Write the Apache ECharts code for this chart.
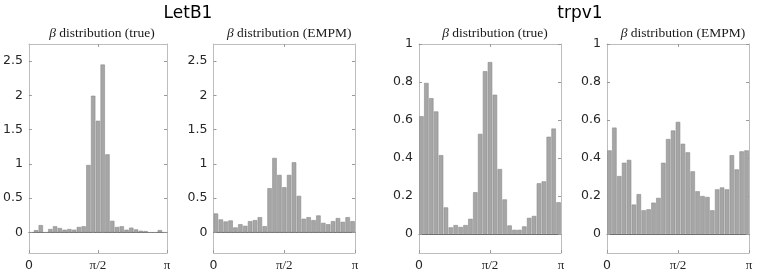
<!DOCTYPE html>
<html>
<head>
<meta charset="utf-8">
<script src="https://cdn.jsdelivr.net/npm/echarts@6/dist/echarts.min.js"></script>
<style>
html,body{margin:0;padding:0;background:#fff;}
#chart{width:761px;height:276px;}
</style>
</head>
<body>
<div id="chart"></div>
<script>
// ---- data ----
const binLabels = ['1','2','3','4','5','6','7','8','9','10','11','12','13','14','15','16','17','18','19','20','21','22','23','24','25','26','27','28','29'];
const letb1True = [0, 0.034, 0.107, 0, 0.05, 0.09, 0.065, 0.04, 0.05, 0.04, 0.08, 0.09, 0.985, 1.995, 1.63, 2.45, 1.14, 0.17, 0.08, 0.09, 0.04, 0.07, 0.045, 0.025, 0.02, 0, 0, 0.035, 0];
const letb1Empm = [0.277, 0.19, 0.16, 0.175, 0.073, 0.12, 0.097, 0.165, 0.18, 0.223, 0.092, 0.646, 1.087, 0.84, 0.66, 0.84, 1.024, 0.534, 0.2, 0.223, 0.18, 0.248, 0.14, 0.12, 0.165, 0.21, 0.155, 0.223, 0.165];
const trpv1True = [0.62, 0.795, 0.715, 0.645, 0.415, 0.14, 0.035, 0.047, 0.037, 0.047, 0.08, 0.22, 0.527, 0.857, 0.905, 0.733, 0.342, 0.182, 0.045, 0.022, 0.022, 0.04, 0.085, 0.095, 0.267, 0.277, 0.512, 0.555, 0.167];
const trpv1Empm = [0.44, 0.56, 0.305, 0.375, 0.39, 0.155, 0.21, 0.125, 0.13, 0.165, 0.19, 0.375, 0.50, 0.545, 0.59, 0.475, 0.43, 0.33, 0.225, 0.2, 0.195, 0.125, 0.235, 0.245, 0.235, 0.415, 0.34, 0.435, 0.44];
const letb1Ticks = [0, 0.5, 1, 1.5, 2, 2.5];
const trpv1Ticks = [0, 0.2, 0.4, 0.6, 0.8, 1];
const xTickValues = [0, Math.PI / 2, Math.PI];
const xTickLabels = ['0', 'π/2', 'π'];
const panelTitles = ['true', 'EMPM', 'true', 'EMPM'];
const groupTitles = ['LetB1', 'trpv1'];

// ---- layout ----
const panels = [
  {left: 27, width: 140, data: letb1True, ymin: -0.3, ymax: 2.75, ticks: letb1Ticks},
  {left: 213.5, width: 141.5, data: letb1Empm, ymin: -0.3, ymax: 2.75, ticks: letb1Ticks},
  {left: 419, width: 142, data: trpv1True, ymin: -0.1, ymax: 1, ticks: trpv1Ticks},
  {left: 607, width: 142, data: trpv1Empm, ymin: -0.1, ymax: 1, ticks: trpv1Ticks}
];
const TOP = 44, HEIGHT = 209;
const boxColor = '#bdbdbd';
const textColor = '#262626';

const grid = [], xAxis = [], yAxis = [], series = [], title = [];
panels.forEach((p, i) => {
  grid.push({left: p.left, top: TOP, width: p.width, height: HEIGHT, containLabel: false});
  xAxis.push({
    type: 'category', gridIndex: i, data: binLabels, boundaryGap: true, position: 'bottom',
    axisLine: {show: true, onZero: true, lineStyle: {color: '#6e6e6e', width: 1}},
    axisTick: {show: false}, axisLabel: {show: false}, splitLine: {show: false}
  });
  xAxis.push({
    type: 'value', gridIndex: i, min: 0, max: Math.PI, position: 'bottom',
    axisLine: {show: true, onZero: false, lineStyle: {color: boxColor, width: 1}},
    axisTick: {show: true, inside: true, length: 3, customValues: xTickValues, lineStyle: {color: '#9a9a9a'}},
    axisLabel: {
      show: true, margin: 6, customValues: xTickValues,
      formatter: v => {
        const k = xTickValues.findIndex(t => Math.abs(t - v) < 1e-6);
        return k === 0 ? '{s|0}' : '{m|' + xTickLabels[k] + '}';
      },
      rich: {
        s: {fontFamily: 'DejaVu Sans', fontSize: 12.5, color: textColor},
        m: {fontFamily: 'Liberation Serif', fontSize: 13, color: textColor}
      }
    },
    splitLine: {show: false}
  });
  xAxis.push({
    type: 'value', gridIndex: i, min: 0, max: Math.PI, position: 'top',
    axisLine: {show: true, onZero: false, lineStyle: {color: boxColor, width: 1}},
    axisTick: {show: true, inside: true, length: 3, customValues: [Math.PI / 2], lineStyle: {color: '#9a9a9a'}},
    axisLabel: {show: false}, splitLine: {show: false}
  });
  yAxis.push({
    type: 'value', gridIndex: i, min: p.ymin, max: p.ymax, position: 'left',
    axisLine: {show: true, onZero: false, lineStyle: {color: boxColor, width: 1}},
    axisTick: {show: true, inside: true, length: 3, customValues: p.ticks, lineStyle: {color: '#9a9a9a'}},
    axisLabel: {show: true, margin: 6, customValues: p.ticks, fontFamily: 'DejaVu Sans', fontSize: 12.5, color: textColor},
    splitLine: {show: false}
  });
  yAxis.push({
    type: 'value', gridIndex: i, min: p.ymin, max: p.ymax, position: 'right',
    axisLine: {show: true, onZero: false, lineStyle: {color: boxColor, width: 1}},
    axisTick: {show: true, inside: true, length: 3, customValues: p.ticks, lineStyle: {color: '#9a9a9a'}},
    axisLabel: {show: false}, splitLine: {show: false}
  });
  series.push({
    type: 'bar', xAxisIndex: i * 3, yAxisIndex: i * 2, data: p.data,
    barCategoryGap: '8%',
    itemStyle: {color: '#a6a6a6', borderColor: '#8c8c8c', borderWidth: 0.6},
    silent: true, animation: false
  });
  title.push({
    text: '{b|β} distribution (' + panelTitles[i] + ')',
    left: p.left + p.width / 2, top: 21, textAlign: 'center',
    textStyle: {
      fontFamily: 'Liberation Serif', fontSize: 13.5, fontWeight: 'normal', color: '#1a1a1a',
      rich: {b: {fontFamily: 'Liberation Serif', fontStyle: 'italic', fontSize: 13.5, color: '#1a1a1a'}}
    }
  });
});
title.push({text: groupTitles[0], left: 183, top: 0, textAlign: 'center',
  textStyle: {fontFamily: 'DejaVu Sans', fontSize: 17, fontWeight: 'normal', color: '#000'}});
title.push({text: groupTitles[1], left: 575, top: 0, textAlign: 'center',
  textStyle: {fontFamily: 'DejaVu Sans', fontSize: 17, fontWeight: 'normal', color: '#000'}});

const chart = echarts.init(document.getElementById('chart'), null, {renderer: 'canvas'});
chart.setOption({animation: false, backgroundColor: '#fff', title, grid, xAxis, yAxis, series});
</script>
</body>
</html>
